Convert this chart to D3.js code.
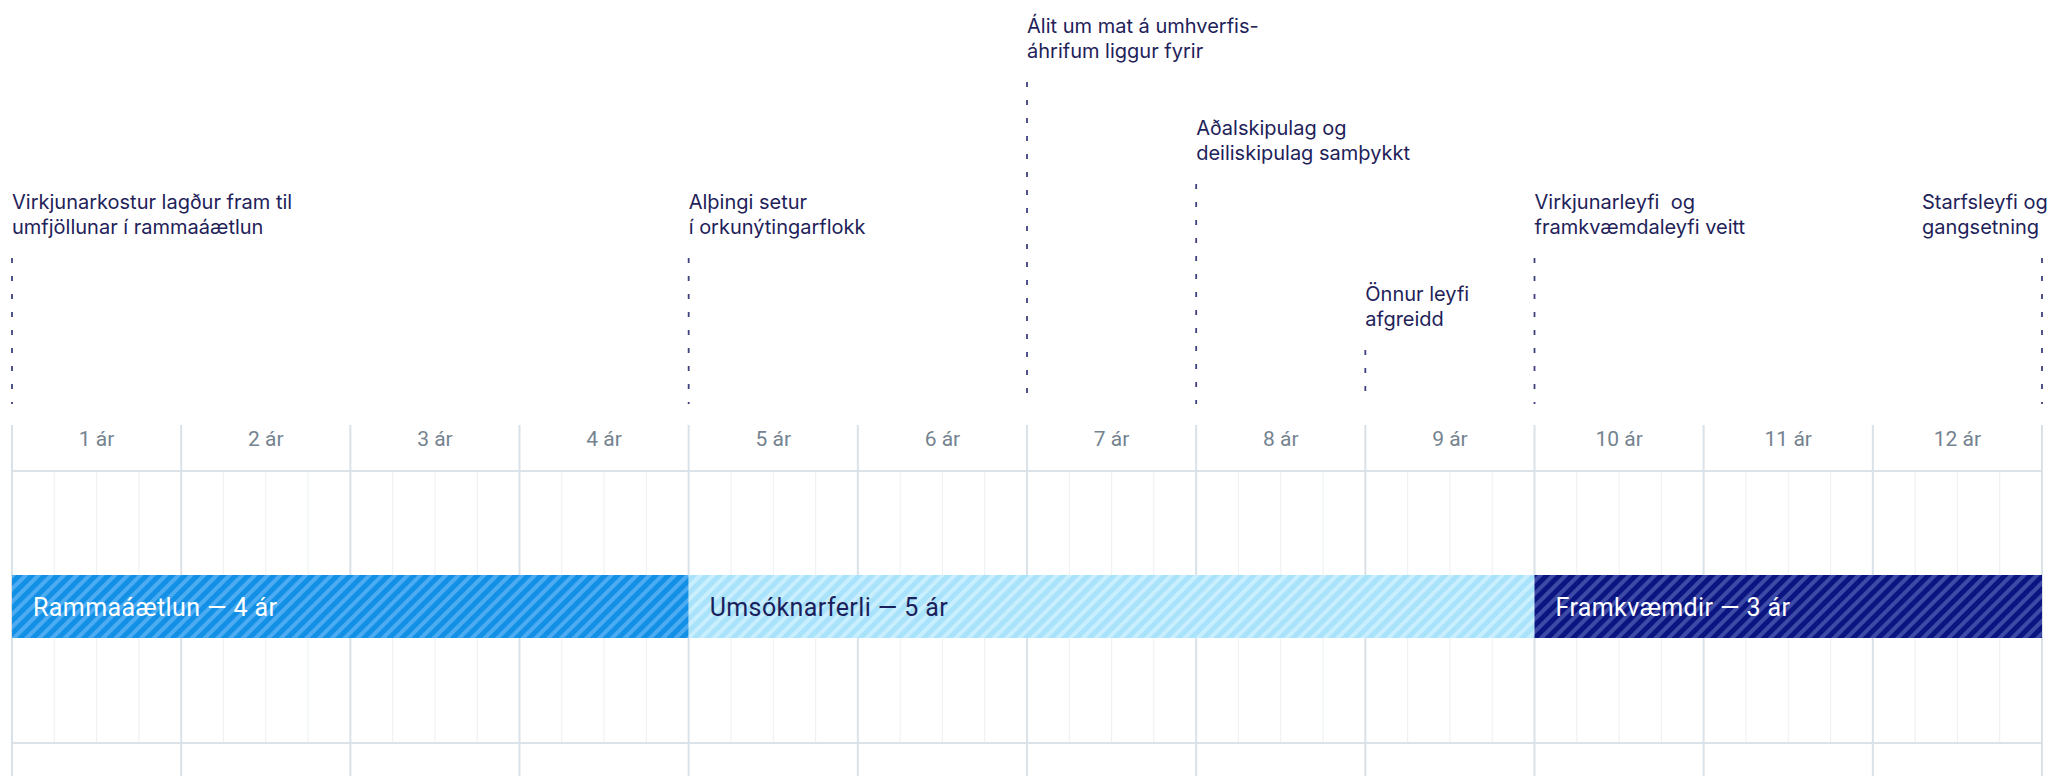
<!DOCTYPE html>
<html>
<head>
<meta charset="utf-8">
<script src="https://cdn.jsdelivr.net/npm/d3@7"></script>
<style>
  html, body { margin: 0; padding: 0; background: #fff; }
  svg { display: block; }
</style>
</head>
<body>
<div id="viz"></div>
<script>
// data
const yearLabels = ['1 ár', '2 ár', '3 ár', '4 ár', '5 ár', '6 ár', '7 ár', '8 ár', '9 ár', '10 ár', '11 ár', '12 ár'];
const phaseNames = ['Rammaáætlun — 4 ár', 'Umsóknarferli — 5 ár', 'Framkvæmdir — 3 ár'];
const phaseStart = [0, 4, 9];
const phaseEnd = [4, 9, 12];
const milestoneText = [
    ['Virkjunarkostur lagður fram til', 'umfjöllunar í rammaáætlun'],
    ['Alþingi setur', 'í orkunýtingarflokk'],
    ['Álit um mat á umhverfis-', 'áhrifum liggur fyrir'],
    ['Aðalskipulag og', 'deiliskipulag samþykkt'],
    ['Önnur leyfi', 'afgreidd'],
    ['Virkjunarleyfi  og', 'framkvæmdaleyfi veitt'],
    ['Starfsleyfi og', 'gangsetning']
];
const milestoneAt = [0, 4, 6, 7, 8, 9, 12];

// layout
const milestoneBaseline = [209, 209, 33, 135, 301, 209, 209];
const phaseFill = ['#1190e6', '#a9e2fb', '#0b1582'];
const phaseStripe = ['#4cabf1', '#c9eefd', '#3e4ba6'];
const phaseText = ['#ffffff', '#1b1f5c', '#ffffff'];

function buildChart(containerId) {
    const width = 2054;
    const height = 776;

    const grid = { top: 425, header: 471, barTop: 575, barBottom: 638, bottom: 743 };

    const svg = d3.select(containerId)
        .append('svg')
        .attr('width', width)
        .attr('height', height);

    const x = d3.scaleLinear()
        .domain([0, yearLabels.length])
        .range([12, 2042]);

    // stripe patterns
    const defs = svg.append('defs');
    phaseNames.forEach((p, i) => {
        const pat = defs.append('pattern')
            .attr('id', 'stripe' + i)
            .attr('patternUnits', 'userSpaceOnUse')
            .attr('width', 9)
            .attr('height', 9)
            .attr('patternTransform', 'rotate(45)');
        pat.append('rect')
            .attr('width', 9).attr('height', 9)
            .attr('fill', phaseFill[i]);
        pat.append('rect')
            .attr('width', 4).attr('height', 9)
            .attr('fill', phaseStripe[i]);
    });

    // minor (quarter) grid
    const quarters = d3.range(0, yearLabels.length * 4).filter(q => q % 4 != 0).map(q => q / 4);
    svg.append('g')
        .selectAll('line')
        .data(quarters)
        .enter()
        .append('line')
        .attr('x1', d => x(d)).attr('x2', d => x(d))
        .attr('y1', grid.header).attr('y2', grid.bottom)
        .attr('stroke', '#eef2f5')
        .attr('stroke-width', 1.2);

    // horizontal lines
    svg.append('g')
        .selectAll('line')
        .data([grid.header, grid.bottom])
        .enter()
        .append('line')
        .attr('x1', x(0)).attr('x2', x(yearLabels.length))
        .attr('y1', d => d).attr('y2', d => d)
        .attr('stroke', '#dbe3e9')
        .attr('stroke-width', 2);

    // major (year) grid
    svg.append('g')
        .selectAll('line')
        .data(d3.range(0, yearLabels.length + 1))
        .enter()
        .append('line')
        .attr('x1', d => x(d)).attr('x2', d => x(d))
        .attr('y1', grid.top).attr('y2', height)
        .attr('stroke', '#d9e2e8')
        .attr('stroke-width', 2);

    // year labels
    svg.append('g')
        .selectAll('text')
        .data(yearLabels)
        .enter()
        .append('text')
        .attr('x', (d, i) => x(i + 0.5))
        .attr('y', 446)
        .attr('text-anchor', 'middle')
        .attr('font-family', 'Roboto, sans-serif')
        .attr('font-size', 21)
        .attr('fill', '#74838f')
        .text(d => d);

    // phase bars
    const bars = svg.append('g')
        .selectAll('g')
        .data(phaseNames)
        .enter()
        .append('g');

    bars.append('rect')
        .attr('x', (d, i) => x(phaseStart[i]))
        .attr('y', grid.barTop)
        .attr('width', (d, i) => x(phaseEnd[i]) - x(phaseStart[i]))
        .attr('height', grid.barBottom - grid.barTop)
        .attr('fill', (d, i) => `url(#stripe${i})`);

    bars.append('text')
        .attr('x', (d, i) => x(phaseStart[i]) + 21)
        .attr('y', 616)
        .attr('font-family', 'Roboto, sans-serif')
        .attr('font-size', 25)
        .attr('letter-spacing', 0.4)
        .attr('fill', (d, i) => phaseText[i])
        .text(d => d);

    // milestones
    const ms = svg.append('g')
        .selectAll('g')
        .data(milestoneText)
        .enter()
        .append('g');

    ms.append('line')
        .attr('x1', (d, i) => x(milestoneAt[i])).attr('x2', (d, i) => x(milestoneAt[i]))
        .attr('y1', (d, i) => milestoneBaseline[i] + 49)
        .attr('y2', 404)
        .attr('stroke', '#3f427c')
        .attr('stroke-width', 1.8)
        .attr('stroke-dasharray', '5,13');

    ms.append('text')
        .attr('font-family', 'Inter, sans-serif')
        .attr('font-size', 20)
        .attr('fill', '#1e2259')
        .each(function(d, i) {
            const last = i == milestoneText.length - 1;
            const tx = last ? x(milestoneAt[i]) - 120 : x(milestoneAt[i]);
            d3.select(this).selectAll('tspan')
                .data(d)
                .enter()
                .append('tspan')
                .attr('x', tx)
                .attr('y', (t, j) => milestoneBaseline[i] + j * 25)
                .attr('xml:space', 'preserve')
                .text(t => t);
        });
}

buildChart('#viz');
</script>
</body>
</html>
